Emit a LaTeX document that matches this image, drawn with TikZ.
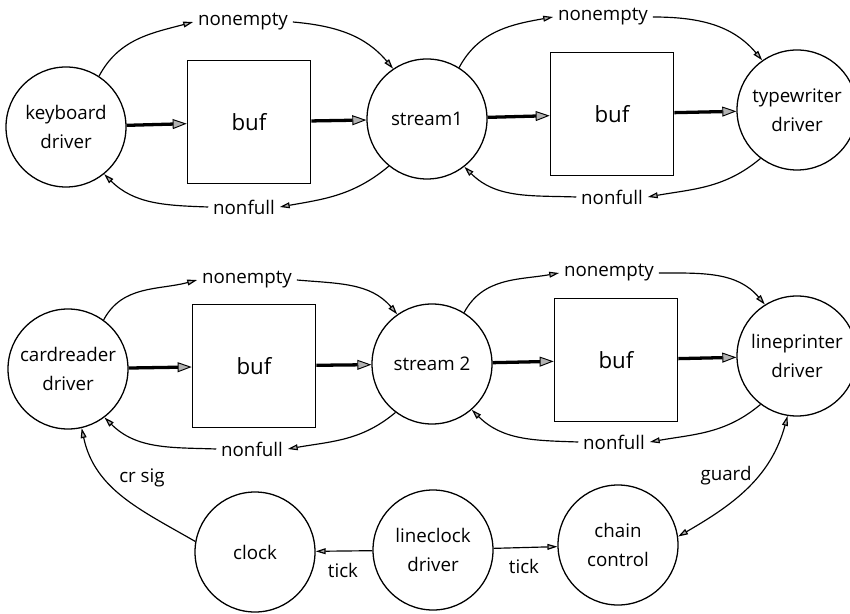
\documentclass[tikz,border=0pt]{standalone}
\usepackage{fontspec}
\setmainfont{Open Sans}
\usetikzlibrary{arrows.meta}

\tikzset{
  proc/.style={draw, circle, line width=1.1pt, minimum size=3.6cm, inner sep=0pt,
    align=center, font=\fontsize{16}{25}\selectfont},
  bufbox/.style={draw, line width=1.1pt, minimum size=3.7cm, font=\fontsize{19}{22}\selectfont},
  lab/.style={font=\fontsize{16}{20}\selectfont, inner sep=4pt},
  feed/.style={line width=2.8pt, -{Triangle[length=12pt,width=8.5pt,fill=gray!60,line width=0.8pt]}},
  sig/.style={line width=1pt, >={Triangle[length=8.5pt,width=5pt,fill=gray!60]}, ->},
}

\begin{document}
\begin{tikzpicture}[x=0.03cm, y=0.03cm]
\useasboundingbox (0,0) rectangle (850,613);

% keyboard -> typewriter
\node[proc] (kbd) at (66,486) {keyboard\\driver};
\node[bufbox] (buf1) at (249,491) {buf};
\node[proc] (strA) at (427,494) {stream1};
\node[bufbox] (buf2) at (612,499) {buf};
\node[proc] (tty) at (797,503) {typewriter\\driver};

\node[lab] (ne1) at (243,591) {nonempty};
\node[lab] (nf1) at (244,406) {nonfull};
\node[lab] (ne2) at (603,596) {nonempty};
\node[lab] (nf2) at (612,416) {nonfull};

\draw[feed] (kbd) -- (buf1);
\draw[feed] (buf1) -- (strA);
\draw[feed] (strA) -- (buf2);
\draw[feed] (buf2) -- (tty);

\draw[sig] (kbd.57) to[out=62,in=195] (ne1.west);
\draw[sig] (ne1.east) to[out=-5,in=130] (strA.124);
\draw[sig] (strA.231) to[out=220,in=10] (nf1.east);
\draw[sig] (nf1.west) to[out=178,in=-45] (kbd.-51);

\draw[sig] (strA.58) to[out=62,in=190] (ne2.west);
\draw[sig] (ne2.east) to[out=0,in=130] (tty.125);
\draw[sig] (tty.233) to[out=220,in=10] (nf2.east);
\draw[sig] (nf2.west) to[out=178,in=-45] (strA.-52);

% cardreader -> lineprinter
\node[proc] (crd) at (68,244) {cardreader\\driver};
\node[bufbox] (buf3) at (254,247) {buf};
\node[proc] (strB) at (432,249) {stream 2};
\node[bufbox] (buf4) at (616,253) {buf};
\node[proc] (lpt) at (797,257) {lineprinter\\driver};

\node[lab] (ne3) at (247,333) {nonempty};
\node[lab] (nf3) at (252,164) {nonfull};
\node[lab] (ne4) at (609,340) {nonempty};
\node[lab] (nf4) at (614,171) {nonfull};

\draw[feed] (crd) -- (buf3);
\draw[feed] (buf3) -- (strB);
\draw[feed] (strB) -- (buf4);
\draw[feed] (buf4) -- (lpt);

\draw[sig] (crd.54) to[out=62,in=195] (ne3.west);
\draw[sig] (ne3.east) to[out=-5,in=130] (strB.125);
\draw[sig] (strB.233) to[out=220,in=10] (nf3.east);
\draw[sig] (nf3.west) to[out=178,in=-45] (crd.-53);

\draw[sig] (strB.58) to[out=62,in=190] (ne4.west);
\draw[sig] (ne4.east) to[out=0,in=130] (lpt.122);
\draw[sig] (lpt.233) to[out=220,in=10] (nf4.east);
\draw[sig] (nf4.west) to[out=178,in=-45] (strB.-49);

% clocks
\node[proc] (clk) at (255,61) {clock};
\node[proc] (lck) at (433,63) {lineclock\\driver};
\node[proc] (chn) at (618,68) {chain\\control};

\node[lab] (tk1) at (343,43) {tick};
\node[lab] (tk2) at (524,47) {tick};
\node[lab] (crsig) at (142,135) {cr sig};
\node[lab] (guard) at (726,137) {guard};

\draw[sig] (lck) -- (clk);
\draw[sig] (lck) -- (chn);
\draw[sig] (clk.170) to[out=150,in=-78] (crd.-77);
\draw[sig, <->] (lpt.-99) to[out=-105,in=30] (chn.8);
\end{tikzpicture}
\end{document}
